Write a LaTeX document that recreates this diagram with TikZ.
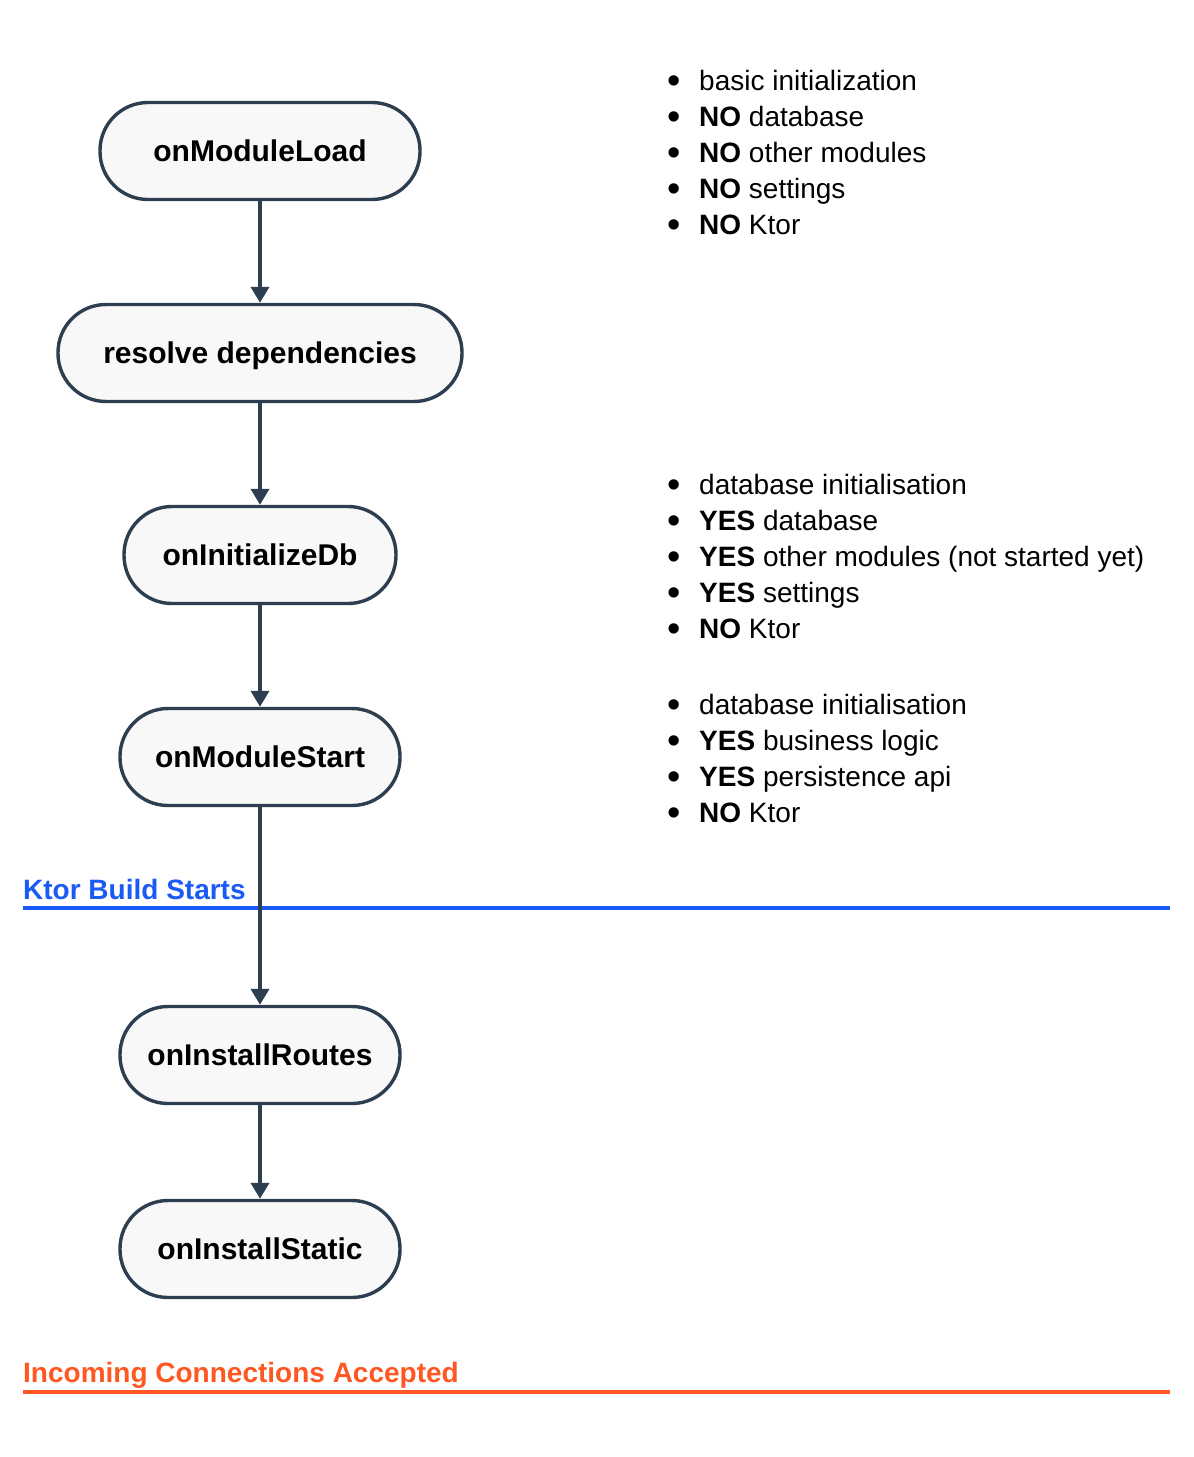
\documentclass[tikz,border=0pt]{standalone}
\usepackage{fontspec}
\setmainfont{Liberation Sans}
\usetikzlibrary{arrows.meta}

\definecolor{slate}{RGB}{44,62,80}
\definecolor{boxfill}{RGB}{248,248,248}
\definecolor{ktorblue}{RGB}{26,90,245}
\definecolor{connorange}{RGB}{255,87,34}

\newcommand{\bitem}[1]{\makebox[32pt][l]{\raisebox{-3pt}{\fontsize{38}{36}\selectfont\textbullet}}#1}

\begin{document}
\begin{tikzpicture}[x=1pt, y=-1pt,
	hook/.style={draw=slate, line width=3.4pt, fill=boxfill, rounded corners=48pt,
		minimum height=97pt, text height=22pt, text depth=2pt,
		font=\fontsize{30}{36}\selectfont\bfseries},
	note/.style={anchor=base west, inner sep=0pt, font=\fontsize{28}{36}\selectfont},
	phase/.style={anchor=base west, inner sep=0pt, font=\fontsize{28}{36}\selectfont\bfseries},
	flow/.style={draw=slate, line width=3.8pt, -{Triangle[width=18pt,length=16pt]}}]

	\useasboundingbox (0,0) rectangle (1194,1457);

	% phase markers
	\coordinate (ktorL) at (23,908);
	\coordinate (ktorR) at (1170,908);
	\draw[ktorblue, line width=3.4pt] (ktorL) -- (ktorR);
	\node[phase, text=ktorblue] (ktorlbl) at (23,899) {Ktor Build Starts};

	\coordinate (connL) at (23,1392);
	\coordinate (connR) at (1170,1392);
	\draw[connorange, line width=3.4pt] (connL) -- (connR);
	\node[phase, text=connorange] (connlbl) at (23,1382) {Incoming Connections Accepted};

	% lifecycle hooks
	\node[hook, minimum width=320pt] (load)    at (260,151)  {onModuleLoad};
	\node[hook, minimum width=404pt] (resolve) at (260,353)  {resolve dependencies};
	\node[hook, minimum width=272pt] (initdb)  at (260,555)  {onInitializeDb};
	\node[hook, minimum width=280pt] (start)   at (260,757)  {onModuleStart};
	\node[hook, minimum width=280pt] (routes)  at (260,1055) {onInstallRoutes};
	\node[hook, minimum width=280pt] (static)  at (260,1249) {onInstallStatic};

	\draw[flow] (load) -- (resolve);
	\draw[flow] (resolve) -- (initdb);
	\draw[flow] (initdb) -- (start);
	\draw[flow] (start) -- (routes);
	\draw[flow] (routes) -- (static);

	% notes
	\foreach \lbl [count=\i] in {{basic initialization}, {\textbf{NO} database},
			{\textbf{NO} other modules}, {\textbf{NO} settings}, {\textbf{NO} Ktor}}
		\node[note] (loadnote\i) at (667,{90+36*(\i-1)}) {\bitem{\lbl}};

	\foreach \lbl [count=\i] in {{database initialisation}, {\textbf{YES} database},
			{\textbf{YES} other modules (not started yet)}, {\textbf{YES} settings}, {\textbf{NO} Ktor}}
		\node[note] (dbnote\i) at (667,{494+36*(\i-1)}) {\bitem{\lbl}};

	\foreach \lbl [count=\i] in {{database initialisation}, {\textbf{YES} business logic},
			{\textbf{YES} persistence api}, {\textbf{NO} Ktor}}
		\node[note] (startnote\i) at (667,{714+36*(\i-1)}) {\bitem{\lbl}};

\end{tikzpicture}
\end{document}
